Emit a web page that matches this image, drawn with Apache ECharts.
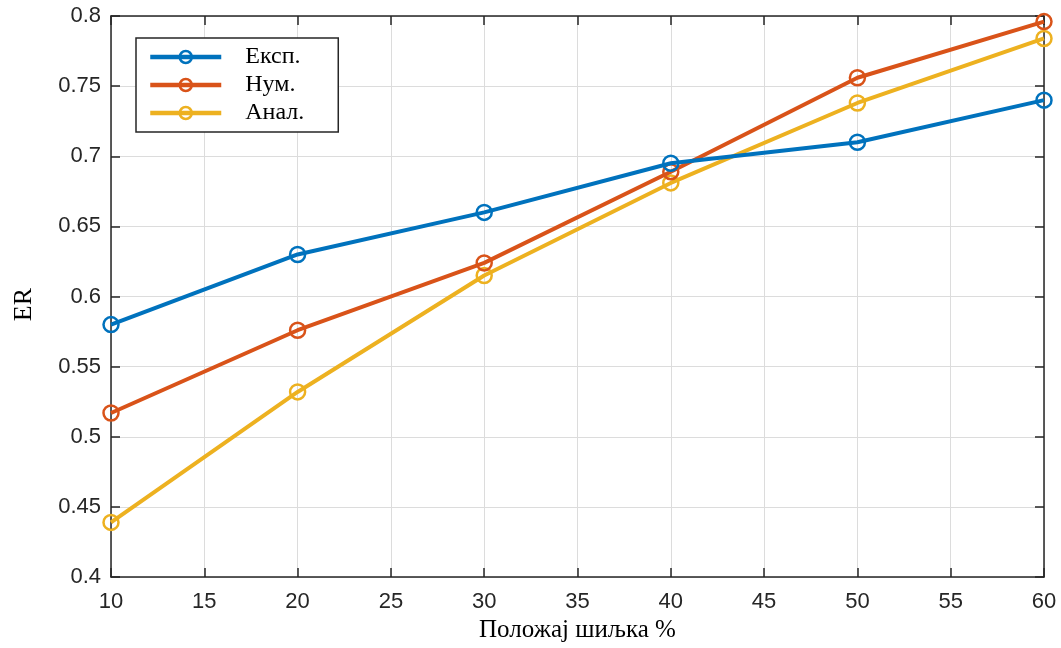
<!DOCTYPE html>
<html><head><meta charset="utf-8">
<script src="https://cdn.jsdelivr.net/npm/echarts@6/dist/echarts.min.js"></script>
<style>html,body{margin:0;padding:0;background:#fff}#c{width:1061px;height:648px}</style>
</head><body><div id="c"></div>
<script>
const xValues = [10, 20, 30, 40, 50, 60];
const seriesNames = ['Експ.', 'Нум.', 'Анал.'];
const eksp = [0.580, 0.630, 0.660, 0.695, 0.710, 0.740];
const num = [0.517, 0.576, 0.624, 0.689, 0.756, 0.796];
const anal = [0.439, 0.532, 0.615, 0.681, 0.738, 0.784];
const colors = ['#0072BD', '#D95319', '#EDB120'];
const xTitle = 'Положај шиљка %';
const yTitle = 'ER';

const chart = echarts.init(document.getElementById('c'));
const tickFont = {fontFamily: 'Liberation Sans', fontSize: 22, color: '#262626'};
function mk(name, vals, i) {
  return {
    name: name, type: 'line', xAxisIndex: 0, yAxisIndex: 0,
    data: xValues.map((x, k) => [x, vals[k]]),
    symbol: 'circle', symbolSize: 15,
    lineStyle: {width: 4, color: colors[i]},
    itemStyle: {color: 'rgba(255,255,255,0)', borderWidth: 2.5, borderColor: colors[i]},
    emphasis: {disabled: true},
    z: 3 + (2 - i)
  };
}
const axisLineStyle = {color: '#262626', width: 1.5};
chart.setOption({
  animation: false,
  backgroundColor: '#fff',
  grid: {left: 111, right: 17, top: 16, bottom: 70},
  legend: {
    orient: 'vertical', left: 136, top: 38,
    data: seriesNames.map((n, i) => ({name: n, itemStyle: {color: 'rgba(255,255,255,0)', borderColor: colors[i], borderWidth: 2.5}, lineStyle: {width: 4.5, color: colors[i]}})),
    backgroundColor: '#fff', borderColor: '#262626', borderWidth: 1.5, borderRadius: 0,
    padding: [7, 34, 7, 12],
    itemWidth: 71, itemHeight: 15, itemGap: 4,
    textStyle: {fontFamily: 'Liberation Serif', fontSize: 24, color: '#000', padding: [0, 0, 0, 19], lineHeight: 24}
  },
  xAxis: [{
    type: 'value', min: 10, max: 60, interval: 5, position: 'bottom',
    name: xTitle, nameLocation: 'middle', nameGap: 38,
    nameTextStyle: {fontFamily: 'Liberation Serif', fontSize: 25, color: '#000'},
    axisLine: {show: true, onZero: false, lineStyle: axisLineStyle},
    axisTick: {show: true, inside: true, length: 9, lineStyle: axisLineStyle},
    axisLabel: Object.assign({margin: 14}, tickFont),
    splitLine: {show: true, lineStyle: {color: '#dcdcdc', width: 1}}
  }, {
    type: 'value', min: 10, max: 60, interval: 5, position: 'top',
    axisLine: {show: true, onZero: false, lineStyle: axisLineStyle},
    axisTick: {show: true, inside: true, length: 9, lineStyle: axisLineStyle},
    axisLabel: {show: false}, splitLine: {show: false}
  }],
  yAxis: [{
    type: 'value', min: 0.4, max: 0.8, interval: 0.05, position: 'left',
    name: yTitle, nameLocation: 'middle', nameGap: 74, nameRotate: 90,
    nameTextStyle: {fontFamily: 'Liberation Serif', fontSize: 26, color: '#000', padding: [0, 16, 0, 0]},
    axisLine: {show: true, onZero: false, lineStyle: axisLineStyle},
    axisTick: {show: true, inside: true, length: 9, lineStyle: axisLineStyle},
    axisLabel: Object.assign({margin: 10, formatter: v => String(+v.toFixed(2))}, tickFont),
    splitLine: {show: true, lineStyle: {color: '#dcdcdc', width: 1}}
  }, {
    type: 'value', min: 0.4, max: 0.8, interval: 0.05, position: 'right',
    axisLine: {show: true, onZero: false, lineStyle: axisLineStyle},
    axisTick: {show: true, inside: true, length: 9, lineStyle: axisLineStyle},
    axisLabel: {show: false}, splitLine: {show: false}
  }],
  series: [mk(seriesNames[0], eksp, 0), mk(seriesNames[1], num, 1), mk(seriesNames[2], anal, 2)]
});
</script></body></html>
